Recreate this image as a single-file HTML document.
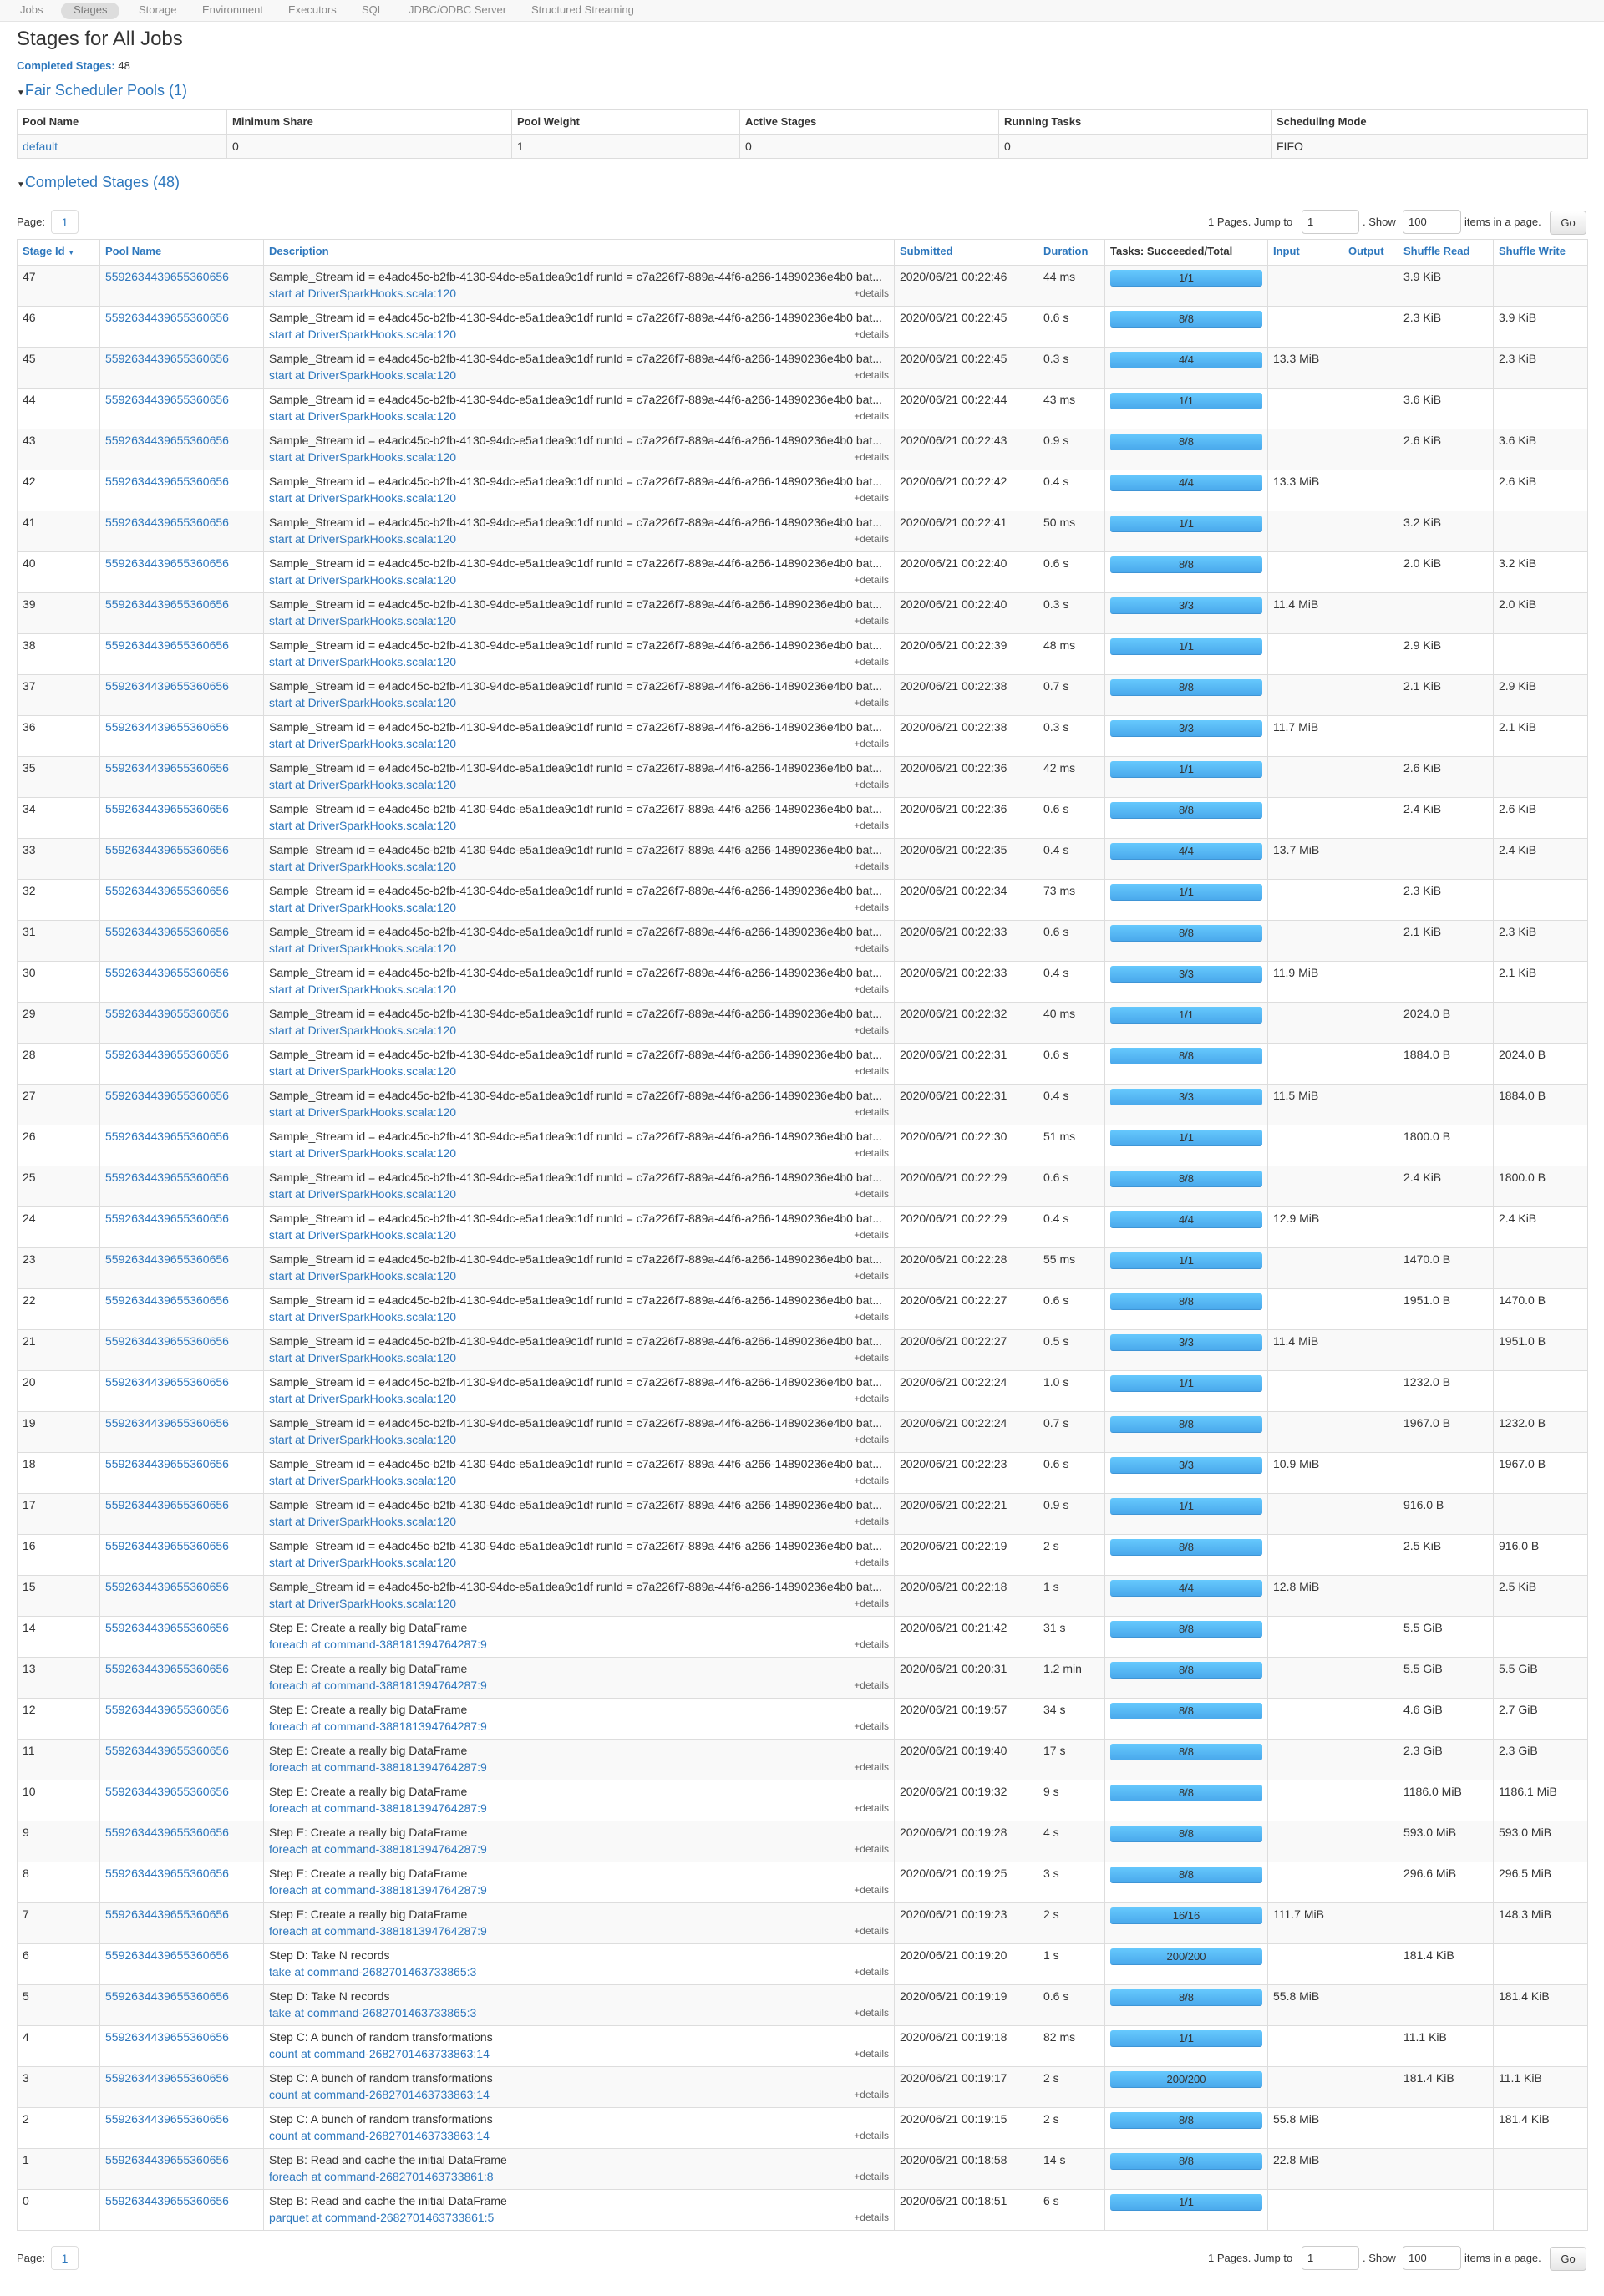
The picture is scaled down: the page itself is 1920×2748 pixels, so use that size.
<!DOCTYPE html>
<html><head><meta charset="utf-8">
<style>
*{box-sizing:border-box}
body{margin:0;width:1920px;height:2748px;background:#fff;font-family:"Liberation Sans",sans-serif;font-size:14px;color:#333;position:relative;overflow:hidden}
a{color:#2d77bd;text-decoration:none}
.nav{position:absolute;left:0;top:0;width:1920px;height:26px;background:#f8f8f8;border-bottom:1px solid #e4e4e4}
.nav span{position:absolute;top:4px;font-size:13px;color:#888}
.pill{position:absolute;left:73px;top:3px;width:70px;height:20px;background:#ddd;border-radius:10px}
.abs{position:absolute}
table{border-collapse:collapse;table-layout:fixed;position:absolute}
td,th{border:1px solid #ddd;text-align:left;vertical-align:top;padding:0 6px;overflow:hidden;white-space:nowrap}
th{font-weight:bold;font-size:13px;height:29px;line-height:28px}
#pool td{height:29px;line-height:28px;background:#f9f9f9}
#stages th{color:#2d77bd}
#stages td{height:49px;padding-top:3px;line-height:20px}
#stages tr.odd td{background:#f9f9f9}
.bar{height:20px;margin-top:2px;border-radius:3px;background:linear-gradient(#66c9fd,#4aa9ec);border-bottom:1px solid #3f95d6;text-align:center;line-height:20px;font-size:13px;color:#333}
.det{float:right;font-size:12px;color:#666}
.ell{overflow:hidden;text-overflow:ellipsis}
.pbox{position:absolute;width:33px;height:29px;border:1px solid #ddd;border-radius:4px;text-align:center;line-height:28px;color:#2d77bd}
.inp{position:absolute;height:29px;border:1px solid #ccc;border-radius:4px;padding-left:6px;line-height:28px;font-size:13px}
.go{position:absolute;width:44px;height:29px;border:1px solid #ccc;border-radius:4px;background:linear-gradient(#fff,#e6e6e6);text-align:center;line-height:28px;font-size:13px}
</style></head><body>
<div class="nav">
<div class="pill"></div>
<span style="left:24px">Jobs</span>
<span style="left:88px;color:#777">Stages</span>
<span style="left:166px">Storage</span>
<span style="left:242px">Environment</span>
<span style="left:345px">Executors</span>
<span style="left:433px">SQL</span>
<span style="left:489px">JDBC/ODBC Server</span>
<span style="left:636px">Structured Streaming</span>
</div>
<div class="abs" style="left:20px;top:33px;font-size:24px">Stages for All Jobs</div>
<div class="abs" style="left:20px;top:71px;font-size:13px"><b style="color:#2d77bd">Completed Stages:</b> 48</div>
<div class="abs" style="left:20px;top:98px;font-size:18px;color:#2d77bd"><span style="color:#333;font-size:10px">&#9660;</span>Fair Scheduler Pools (1)</div>
<table id="pool" style="left:20px;top:131px;width:1880px">
<colgroup><col style="width:251px"><col style="width:341px"><col style="width:273px"><col style="width:310px"><col style="width:326px"><col style="width:379px"></colgroup>
<tr><th>Pool Name</th><th>Minimum Share</th><th>Pool Weight</th><th>Active Stages</th><th>Running Tasks</th><th>Scheduling Mode</th></tr>
<tr><td><a>default</a></td><td>0</td><td>1</td><td>0</td><td>0</td><td>FIFO</td></tr>
</table>
<div class="abs" style="left:20px;top:208px;font-size:18px;color:#2d77bd"><span style="color:#333;font-size:10px">&#9660;</span>Completed Stages (48)</div>

<div class="abs" style="left:20px;top:258px;font-size:13px">Page:</div>
<div class="pbox" style="left:61px;top:251px">1</div>
<div class="abs" style="left:1446px;top:258px;font-size:13px">1 Pages. Jump to</div>
<div class="inp" style="left:1558px;top:251px;width:69px">1</div>
<div class="abs" style="left:1631px;top:258px;font-size:13px">. Show</div>
<div class="inp" style="left:1679px;top:251px;width:70px">100</div>
<div class="abs" style="left:1753px;top:258px;font-size:13px">items in a page.</div>
<div class="go" style="left:1855px;top:252px">Go</div>

<table id="stages" style="left:20px;top:286px;width:1880px">
<colgroup><col style="width:99px"><col style="width:196px"><col style="width:755px"><col style="width:172px"><col style="width:80px"><col style="width:195px"><col style="width:90px"><col style="width:66px"><col style="width:114px"><col style="width:113px"></colgroup>
<thead><tr>
<th>Stage Id <span style="font-size:8px">&#9660;</span></th>
<th>Pool Name</th>
<th>Description</th>
<th>Submitted</th>
<th>Duration</th>
<th style="color:#333">Tasks: Succeeded/Total</th>
<th>Input</th>
<th>Output</th>
<th>Shuffle Read</th>
<th>Shuffle Write</th>
</tr></thead>
<tbody id="tb"></tbody>
</table>

<div class="abs" style="left:20px;top:2695px;font-size:13px">Page:</div>
<div class="pbox" style="left:61px;top:2688px">1</div>
<div class="abs" style="left:1446px;top:2695px;font-size:13px">1 Pages. Jump to</div>
<div class="inp" style="left:1558px;top:2688px;width:69px">1</div>
<div class="abs" style="left:1631px;top:2695px;font-size:13px">. Show</div>
<div class="inp" style="left:1679px;top:2688px;width:70px">100</div>
<div class="abs" style="left:1753px;top:2695px;font-size:13px">items in a page.</div>
<div class="go" style="left:1855px;top:2689px">Go</div>

<script>
const ids=[47,46,45,44,43,42,41,40,39,38,37,36,35,34,33,32,31,30,29,28,27,26,25,24,23,22,21,20,19,18,17,16,15,14,13,12,11,10,9,8,7,6,5,4,3,2,1,0];
const times=["22:46","22:45","22:45","22:44","22:43","22:42","22:41","22:40","22:40","22:39","22:38","22:38","22:36","22:36","22:35","22:34","22:33","22:33","22:32","22:31","22:31","22:30","22:29","22:29","22:28","22:27","22:27","22:24","22:24","22:23","22:21","22:19","22:18","21:42","20:31","19:57","19:40","19:32","19:28","19:25","19:23","19:20","19:19","19:18","19:17","19:15","18:58","18:51"];
const durations=["44 ms","0.6 s","0.3 s","43 ms","0.9 s","0.4 s","50 ms","0.6 s","0.3 s","48 ms","0.7 s","0.3 s","42 ms","0.6 s","0.4 s","73 ms","0.6 s","0.4 s","40 ms","0.6 s","0.4 s","51 ms","0.6 s","0.4 s","55 ms","0.6 s","0.5 s","1.0 s","0.7 s","0.6 s","0.9 s","2 s","1 s","31 s","1.2 min","34 s","17 s","9 s","4 s","3 s","2 s","1 s","0.6 s","82 ms","2 s","2 s","14 s","6 s"];
const tasks=["1/1","8/8","4/4","1/1","8/8","4/4","1/1","8/8","3/3","1/1","8/8","3/3","1/1","8/8","4/4","1/1","8/8","3/3","1/1","8/8","3/3","1/1","8/8","4/4","1/1","8/8","3/3","1/1","8/8","3/3","1/1","8/8","4/4","8/8","8/8","8/8","8/8","8/8","8/8","8/8","16/16","200/200","8/8","1/1","200/200","8/8","8/8","1/1"];
const inputs=["","","13.3 MiB","","","13.3 MiB","","","11.4 MiB","","","11.7 MiB","","","13.7 MiB","","","11.9 MiB","","","11.5 MiB","","","12.9 MiB","","","11.4 MiB","","","10.9 MiB","","","12.8 MiB","","","","","","","","111.7 MiB","","55.8 MiB","","","55.8 MiB","22.8 MiB",""];
const shuffleRead=["3.9 KiB","2.3 KiB","","3.6 KiB","2.6 KiB","","3.2 KiB","2.0 KiB","","2.9 KiB","2.1 KiB","","2.6 KiB","2.4 KiB","","2.3 KiB","2.1 KiB","","2024.0 B","1884.0 B","","1800.0 B","2.4 KiB","","1470.0 B","1951.0 B","","1232.0 B","1967.0 B","","916.0 B","2.5 KiB","","5.5 GiB","5.5 GiB","4.6 GiB","2.3 GiB","1186.0 MiB","593.0 MiB","296.6 MiB","","181.4 KiB","","11.1 KiB","181.4 KiB","","",""];
const shuffleWrite=["","3.9 KiB","2.3 KiB","","3.6 KiB","2.6 KiB","","3.2 KiB","2.0 KiB","","2.9 KiB","2.1 KiB","","2.6 KiB","2.4 KiB","","2.3 KiB","2.1 KiB","","2024.0 B","1884.0 B","","1800.0 B","2.4 KiB","","1470.0 B","1951.0 B","","1232.0 B","1967.0 B","","916.0 B","2.5 KiB","","5.5 GiB","2.7 GiB","2.3 GiB","1186.1 MiB","593.0 MiB","296.5 MiB","148.3 MiB","","181.4 KiB","","11.1 KiB","181.4 KiB","",""];
const SS="Sample_Stream id = e4adc45c-b2fb-4130-94dc-e5a1dea9c1df runId = c7a226f7-889a-44f6-a266-14890236e4b0 bat...";
function desc(id){
 if(id>=15) return [SS,"start at DriverSparkHooks.scala:120"];
 if(id>=7) return ["Step E: Create a really big DataFrame","foreach at command-388181394764287:9"];
 if(id>=5) return ["Step D: Take N records","take at command-2682701463733865:3"];
 if(id>=2) return ["Step C: A bunch of random transformations","count at command-2682701463733863:14"];
 if(id==1) return ["Step B: Read and cache the initial DataFrame","foreach at command-2682701463733861:8"];
 return ["Step B: Read and cache the initial DataFrame","parquet at command-2682701463733861:5"];
}
const tb=document.getElementById('tb');
ids.forEach((id,i)=>{
 const tr=document.createElement('tr');
 
 
 if(i%2==0) tr.className='odd';
 const d=desc(id);
 tr.innerHTML='<td>'+id+'</td><td><a>5592634439655360656</a></td>'+
  '<td><div class="ell">'+d[0]+'</div><div><a>'+d[1]+'</a><span class="det">+details</span></div></td>'+
  '<td>2020/06/21 00:'+times[i]+'</td><td>'+durations[i]+'</td>'+
  '<td><div class="bar">'+tasks[i]+'</div></td>'+
  '<td>'+inputs[i]+'</td><td></td><td>'+shuffleRead[i]+'</td><td>'+shuffleWrite[i]+'</td>';
 tb.appendChild(tr);
});
</script>
</body></html>
